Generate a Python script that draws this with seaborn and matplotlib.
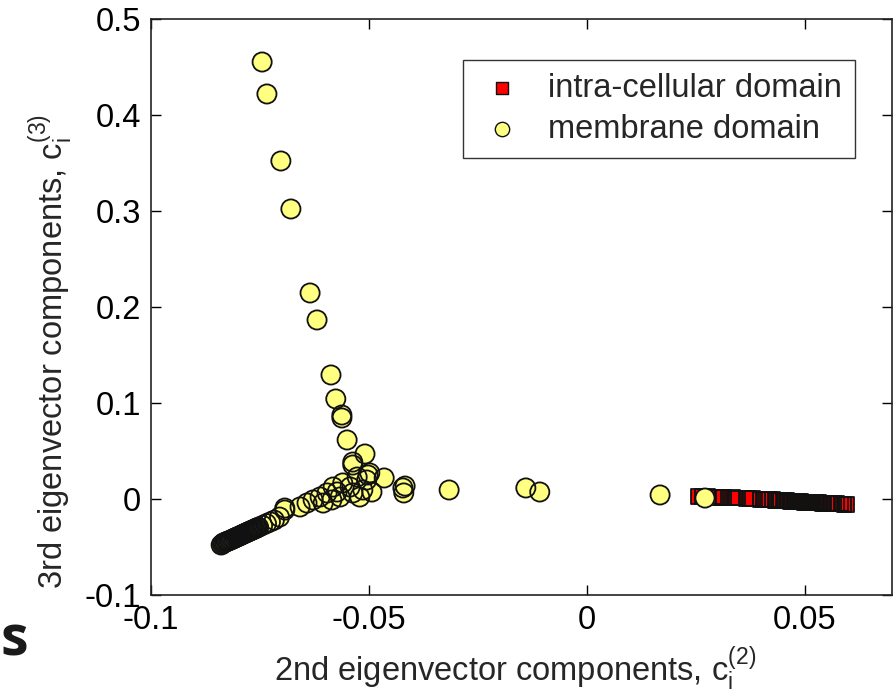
import numpy as np
import pandas as pd
import matplotlib
matplotlib.use('Agg')
import matplotlib.pyplot as plt
import seaborn as sns

# -------------------------------------------------------------------------------------------------
# data (2nd / 3rd eigenvector components)
# -------------------------------------------------------------------------------------------------

# intra-cellular domain (red squares)
intra_x = [0.0255, 0.0265, 0.0278, 0.0290, 0.0296, 0.0305, 0.0310, 0.0314, 0.0335, 0.0342,
           0.0365, 0.0372, 0.0380, 0.0398, 0.0405, 0.0410, 0.0420, 0.0425, 0.0432, 0.0436,
           0.0441, 0.0445, 0.0450, 0.0454, 0.0459, 0.0463, 0.0468, 0.0472, 0.0477, 0.0481,
           0.0486, 0.0490, 0.0495, 0.0499, 0.0504, 0.0508, 0.0513, 0.0517, 0.0522, 0.0526,
           0.0531, 0.0535, 0.0540, 0.0544, 0.0549, 0.0553, 0.0558, 0.0562, 0.0567, 0.0572,
           0.0583, 0.0590, 0.0596]
intra_y = [0.0025, 0.0024, 0.0022, 0.0021, 0.0020, 0.0018, 0.0017, 0.0015, 0.0012, 0.0010,
           0.0006, 0.0004, 0.0003, -0.0002, -0.0004, -0.0005, -0.0008, -0.0009, -0.0011, -0.0012,
           -0.0014, -0.0015, -0.0017, -0.0018, -0.0020, -0.0021, -0.0023, -0.0024, -0.0026, -0.0027,
           -0.0029, -0.0030, -0.0031, -0.0032, -0.0034, -0.0035, -0.0036, -0.0037, -0.0039, -0.0040,
           -0.0041, -0.0042, -0.0043, -0.0044, -0.0045, -0.0046, -0.0047, -0.0048, -0.0049, -0.0050,
           -0.0052, -0.0053, -0.0054]

# membrane domain (yellow circles), one list per arm
upper_x = [-0.0745, -0.0734, -0.0702, -0.0679, -0.0635, -0.0619, -0.0587, -0.0576, -0.0562, -0.0562,
           -0.0550, -0.0509, -0.0537, -0.0537, -0.0502, -0.0465, -0.0422, -0.0420, -0.0417]
upper_y = [0.4552, 0.4219, 0.3521, 0.3021, 0.2146, 0.1865, 0.1292, 0.1042, 0.0875, 0.0844,
           0.0615, 0.0469, 0.0385, 0.0354, 0.0250, 0.0219, 0.0115, 0.0063, 0.0135]

right_x = [-0.0316, -0.0140, -0.0108, 0.0168, 0.0271]
right_y = [0.0094, 0.0115, 0.0073, 0.0042, 0.0010]

center_x = [-0.0527, -0.0498, -0.0514, -0.0543, -0.0560, -0.0573, -0.0596, -0.0612, -0.0628, -0.0585,
            -0.0605, -0.0521, -0.0493, -0.0642, -0.0658, -0.0693, -0.0582, -0.0566, -0.0537, -0.0505]
center_y = [0.0229, 0.0271, 0.0094, 0.0125, 0.0167, 0.0073, 0.0063, 0.0021, -0.0010, -0.0010,
            -0.0042, 0.0021, 0.0073, -0.0042, -0.0083, -0.0094, 0.0125, 0.0021, 0.0063, 0.0198]

# lower-left arm: tightly packed at the tail (renders almost solid black), looser further up
lower_x = [-0.0839, -0.0836,
           -0.0834, -0.0831, -0.0828, -0.0825, -0.0822, -0.0819, -0.0816, -0.0813, -0.0810, -0.0807,
           -0.0804, -0.0801, -0.0798, -0.0795, -0.0792, -0.0789, -0.0786, -0.0783, -0.0780, -0.0777,
           -0.0774, -0.0771, -0.0768, -0.0765, -0.0762, -0.0759, -0.0756, -0.0753,
           -0.0744, -0.0735, -0.0726, -0.0717,
           -0.0705, -0.0693]
lower_y = [-0.0479, -0.0470,
           -0.0458, -0.0455, -0.0446, -0.0441, -0.0437, -0.0430, -0.0425, -0.0418, -0.0413, -0.0404,
           -0.0399, -0.0394, -0.0387, -0.0381, -0.0374, -0.0367, -0.0362, -0.0355, -0.0349, -0.0342,
           -0.0337, -0.0330, -0.0325, -0.0318, -0.0312, -0.0306, -0.0298, -0.0294,
           -0.0275, -0.0256, -0.0238, -0.0220,
           -0.0188, -0.0115]

x_ticks = [-0.1, -0.05, 0, 0.05]
x_ticklabels = ['-0.1', '-0.05', '0', '0.05']
y_ticks = [-0.1, 0, 0.1, 0.2, 0.3, 0.4, 0.5]
y_ticklabels = ['-0.1', '0', '0.1', '0.2', '0.3', '0.4', '0.5']

# -------------------------------------------------------------------------------------------------
# plot
# -------------------------------------------------------------------------------------------------

sns.set_style('ticks')
plt.rcParams['font.family'] = ['Liberation Sans', 'DejaVu Sans']
plt.rcParams['mathtext.fontset'] = 'custom'
plt.rcParams['mathtext.rm'] = 'Liberation Sans'

intra = pd.DataFrame({'c2': intra_x, 'c3': intra_y})
membrane = pd.DataFrame({'c2': upper_x + right_x + center_x + lower_x,
                         'c3': upper_y + right_y + center_y + lower_y})

fig = plt.figure(figsize=(8.96, 6.96), dpi=100)
ax = fig.add_axes([0.1685, 0.1451, 0.8270, 0.8276])


def layered_scatter(df, marker, face, size, label, z):
    '''
    MATLAB style markers: all faces first, then all outlines on top
    '''
    sns.scatterplot(data=df, x='c2', y='c3', marker=marker, color=face, linewidth=0,
                    s=size, label=label, ax=ax, zorder=z)
    sns.scatterplot(data=df, x='c2', y='c3', marker=marker, color='#111111', linewidth=1.3,
                    s=size, ax=ax, zorder=z + 0.5, legend=False)
    ax.collections[-1].set_facecolor('none')
    ax.collections[-1].set_edgecolor('#111111')


layered_scatter(intra, 's', '#ff0000', 115, 'intra-cellular domain', 3)
layered_scatter(membrane, 'o', '#ffff80', 190, 'membrane domain', 4)

ax.set_xlim(-0.1, 0.07)
ax.set_ylim(-0.1, 0.5)
ax.set_xticks(x_ticks)
ax.set_xticklabels(x_ticklabels)
ax.set_yticks(y_ticks)
ax.set_yticklabels(y_ticklabels)
ax.tick_params(direction='in', length=7, width=1, labelsize=23.5, pad=7,
               top=True, right=True, colors='black')
for sp in ax.spines.values():
    sp.set_visible(True)
    sp.set_linewidth(1.2)
    sp.set_color('#222222')

ax.set_xlabel(r'2nd eigenvector components, $\mathregular{c_i^{(2)}}$', fontsize=23.5)
ax.xaxis.set_label_coords(0.491, -0.085)
ax.set_ylabel(r'3rd eigenvector components, $\mathregular{c_i^{(3)}}$', fontsize=23.5)
ax.yaxis.set_label_coords(-0.102, 0.422)

leg = ax.legend(loc='upper right', bbox_to_anchor=(0.950, 0.929), borderaxespad=0,
                fontsize=23.5, frameon=True, fancybox=False, handlelength=1.6, handletextpad=0.6,
                borderpad=0.4, labelspacing=0.3, markerscale=0.75)
leg.get_frame().set_edgecolor('black')
leg.get_frame().set_linewidth(1.0)
for h in leg.legend_handles:
    h.set_edgecolor('#111111')
    h.set_linewidth(1.0)

# stray slide letter in the lower-left corner
fig.text(0.001, 0.058, 's', fontsize=40, fontweight='bold', family=['Open Sans', 'DejaVu Sans'],
         color='#1a1a1a', ha='left', va='baseline')

fig.savefig('out.png', dpi=100)
